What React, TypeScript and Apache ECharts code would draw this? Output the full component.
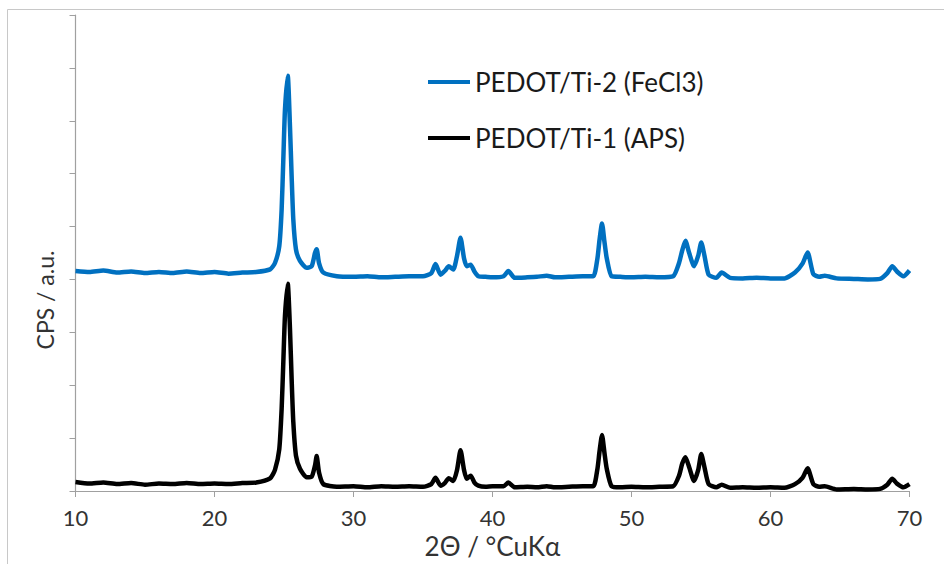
import React, { useEffect, useRef } from "react";
import * as echarts from "echarts";

const twoTheta = [
  10, 11, 12, 13, 14, 15, 16, 17, 18, 19, 20, 21, 22, 23, 24,
  24.35, 24.66, 24.83, 24.95, 25.07, 25.27, 25.43, 25.55, 25.67, 25.86,
  26.15, 26.63, 26.99, 27.23, 27.35, 27.52, 27.83, 28.8,
  30, 31, 32, 33, 34, 35, 35.6, 35.9, 36.27, 36.6, 36.85, 37.18, 37.45,
  37.7, 37.95, 38.15, 38.43, 38.7, 38.98, 39.5, 40, 40.8, 41.14, 41.6,
  42.5, 43.2, 43.9, 44.5, 45.5, 46.5, 47.25, 47.55, 47.7, 47.88, 48.05,
  48.22, 48.57, 49.2, 50, 51, 52, 53, 53.42, 53.65, 53.88, 54.15, 54.5,
  54.8, 55.02, 55.25, 55.55, 56.1, 56.49, 57.1, 58, 59, 60, 61, 61.76,
  62.3, 62.67, 63.08, 63.5, 63.9, 64.76, 66, 67, 67.88, 68.4, 68.76,
  69.1, 69.56, 70,
];

const aps = [
  17, 14, 16, 13, 15, 12, 14, 13, 15, 13, 14, 13, 15, 16, 24,
  40, 79, 155, 243, 331, 392, 306, 211, 130, 67,
  42, 26, 27, 48, 66, 35, 13, 8,
  9, 7, 9, 8, 9, 8, 13, 25, 10, 16, 24, 19, 40,
  77, 40, 23, 29, 16, 10, 8, 9, 9, 16, 7,
  8, 7, 9, 7, 8, 9, 9, 42, 75, 106, 73,
  42, 9, 7, 8, 7, 8, 9, 29, 52, 64, 45, 19,
  40, 70, 45, 13, 7, 12, 6, 7, 6, 7, 6, 13,
  25, 43, 13, 8, 9, 3, 4, 3, 4, 12, 23,
  14, 7, 13,
];

const fecl3 = [
  416, 414, 417, 413, 415, 412, 414, 412, 415, 412, 414, 411, 413, 414, 419,
  431, 463, 532, 626, 721, 785, 689, 595, 513, 457,
  435, 422, 425, 450, 457, 431, 413, 406,
  405, 406, 404, 405, 406, 406, 412, 429, 409, 417, 425, 419, 445,
  479, 440, 425, 428, 415, 406, 405, 404, 406, 416, 403,
  404, 405, 407, 404, 405, 406, 406, 440, 475, 506, 472,
  440, 406, 405, 404, 405, 404, 406, 431, 455, 473, 450, 425,
  445, 470, 445, 409, 403, 413, 403, 402, 403, 402, 402, 413,
  430, 451, 410, 405, 407, 402, 401, 400, 401, 412, 425,
  415, 406, 417,
];

const seriesNames = ["PEDOT/Ti-2 (FeCl3)", "PEDOT/Ti-1 (APS)"];
const seriesColors = ["#0070C0", "#000000"];
const xTicks = { min: 10, max: 70, interval: 10 };
const yTicks = { min: 0, max: 900, interval: 100 };
const xTitle = "2Θ / °CuKα";
const yTitle = "CPS / a.u.";

const FONT = "Lato";

export default function App() {
  const ref = useRef<HTMLDivElement>(null);
  useEffect(() => {
    document.body.style.margin = "0";
    const chart = echarts.init(ref.current!, undefined, { renderer: "svg" });
    const zip = (ys: number[]) => twoTheta.map((x, i) => [x, ys[i]]);
    chart.setOption({
      animation: false,
      backgroundColor: "#ffffff",
      graphic: [
        {
          type: "rect",
          shape: { x: 7.5, y: 9.5, width: 1000, height: 1000 },
          style: { fill: "none", stroke: "#c8c8c8", lineWidth: 1 },
          silent: true,
        },
        {
          type: "text",
          x: 45,
          y: 300,
          rotation: Math.PI / 2,
          style: {
            text: yTitle,
            fontFamily: FONT,
            fontSize: 23,
            fill: "#333",
            align: "center",
            verticalAlign: "middle",
          },
          silent: true,
        },
      ],
      legend: {
        orient: "vertical",
        left: 423,
        top: 64,
        itemWidth: 42,
        itemHeight: 4,
        itemGap: 30,
        icon: "rect",
        textStyle: { fontFamily: FONT, fontSize: 26, color: "#1a1a1a" },
        data: seriesNames,
      },
      grid: { left: 75.5, right: 34.5, top: 15, bottom: 72 },
      xAxis: {
        type: "value",
        min: xTicks.min,
        max: xTicks.max,
        interval: xTicks.interval,
        name: xTitle,
        nameLocation: "middle",
        nameGap: 42,
        nameTextStyle: { fontFamily: FONT, fontSize: 26, color: "#333" },
        axisLine: { lineStyle: { color: "#a0a0a0", width: 1.2 } },
        axisTick: { show: true, length: 6, lineStyle: { color: "#a0a0a0" } },
        axisLabel: { fontFamily: FONT, fontSize: 22, color: "#333", margin: 15 },
        splitLine: { show: false },
      },
      yAxis: {
        type: "value",
        min: yTicks.min,
        max: yTicks.max,
        interval: yTicks.interval,
        axisLine: { show: true, lineStyle: { color: "#a0a0a0", width: 1.2 } },
        axisTick: { show: true, length: 6, lineStyle: { color: "#a0a0a0" } },
        axisLabel: { show: false },
        splitLine: { show: false },
      },
      series: [
        {
          name: seriesNames[0],
          type: "line",
          data: zip(fecl3),
          symbol: "none",
          smooth: 0.2,
          lineStyle: { color: seriesColors[0], width: 4.5 },
          itemStyle: { color: seriesColors[0] },
        },
        {
          name: seriesNames[1],
          type: "line",
          data: zip(aps),
          symbol: "none",
          smooth: 0.2,
          lineStyle: { color: seriesColors[1], width: 4.5 },
          itemStyle: { color: seriesColors[1] },
        },
      ],
    });
    return () => chart.dispose();
  }, []);
  return <div ref={ref} style={{ width: 944, height: 564 }} />;
}
